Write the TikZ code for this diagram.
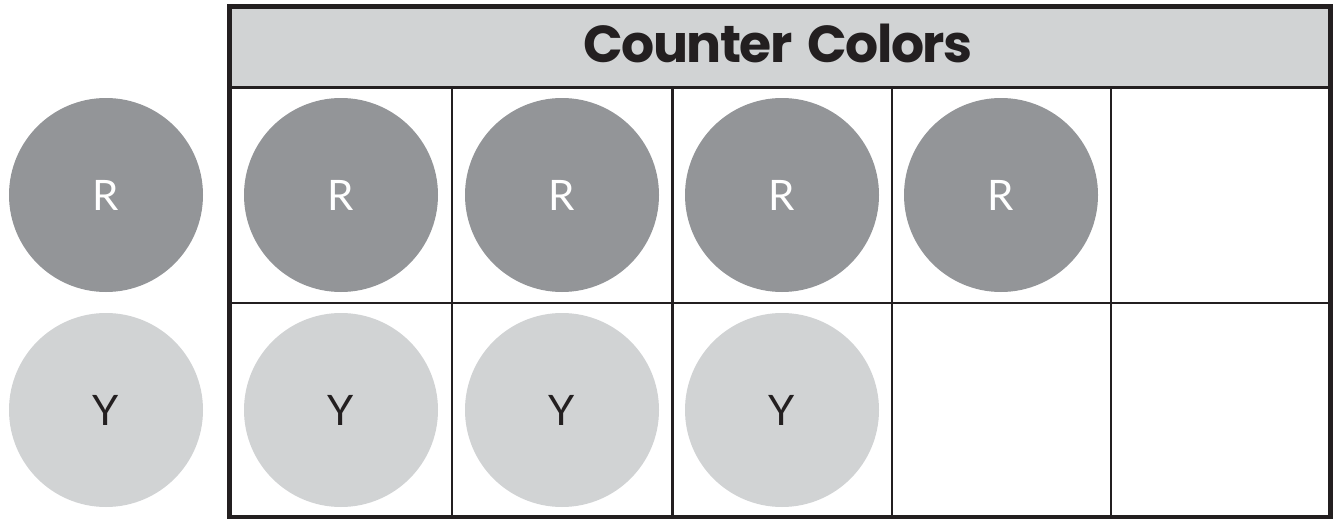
\documentclass[tikz,border=0pt]{standalone}
\usepackage{fontspec}
\newfontfamily\titlefont{Poppins}[LetterSpace=-3, WordSpace=1.6]
\newfontfamily\letterfont{Lato}
\definecolor{ink}{HTML}{231F20}
\definecolor{darkc}{HTML}{939598}
\definecolor{lightc}{HTML}{D1D3D4}
\tikzset{
  counter/.style={circle, minimum size=194pt, inner sep=0pt, draw=none, font=\letterfont\fontsize{42}{42}\selectfont},
  red counter/.style={counter, fill=darkc, text=white},
  yellow counter/.style={counter, fill=lightc, text=ink},
  grid line/.style={draw=ink, line width=2.6pt},
  frame line/.style={draw=ink, line width=5pt},
}
\begin{document}
\begin{tikzpicture}[x=1pt,y=-1pt]
\useasboundingbox (0,0) rectangle (1338,519);
% header
\fill[lightc] (229.5,6.5) rectangle (1330.5,87.5);
\node[font=\titlefont\bfseries\fontsize{52}{52}\selectfont, text=ink] (title) at (778,43) {Counter Colors};
% loose counters
\node[red counter] (lr) at (106,195) {R};
\node[yellow counter] (ly) at (106,410) {Y};
% counters in the frame
\node[red counter] (r1) at (341,195) {R};
\node[red counter] (r2) at (562,195) {R};
\node[red counter] (r3) at (782,195) {R};
\node[red counter] (r4) at (1001,195) {R};
\node[yellow counter] (y1) at (341,410) {Y};
\node[yellow counter] (y2) at (562,410) {Y};
\node[yellow counter] (y3) at (782,410) {Y};
% grid
\draw[grid line] (229.5,87.5) -- (1330.5,87.5);
\draw[grid line] (229.5,303) -- (1330.5,303);
\foreach \x in {452,672.5,892,1111} {
  \draw[grid line] (\x,87.5) -- (\x,517);
}
\draw[frame line] (229.5,6.5) rectangle (1330.5,517);
\end{tikzpicture}
\end{document}
